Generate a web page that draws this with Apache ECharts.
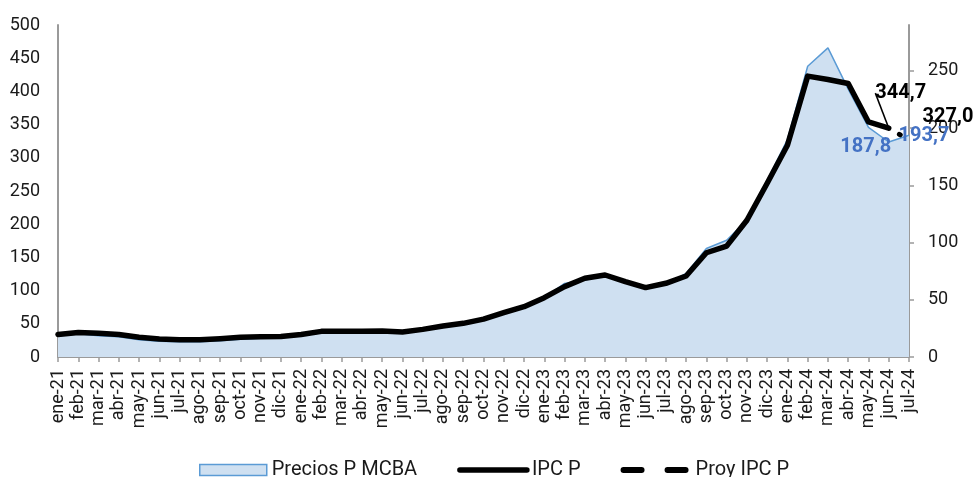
<!DOCTYPE html>
<html>
<head>
<meta charset="utf-8">
<script src="https://cdn.jsdelivr.net/npm/echarts@6/dist/echarts.min.js"></script>
<style>
  html, body { margin: 0; padding: 0; background: #fff; }
  #chart { width: 976px; height: 477px; }
</style>
</head>
<body>
<div id="chart"></div>
<script>
const months = [
  'ene-21','feb-21','mar-21','abr-21','may-21','jun-21','jul-21','ago-21','sep-21','oct-21','nov-21','dic-21',
  'ene-22','feb-22','mar-22','abr-22','may-22','jun-22','jul-22','ago-22','sep-22','oct-22','nov-22','dic-22',
  'ene-23','feb-23','mar-23','abr-23','may-23','jun-23','jul-23','ago-23','sep-23','oct-23','nov-23','dic-23',
  'ene-24','feb-24','mar-24','abr-24','may-24','jun-24','jul-24'
];

// Precios P MCBA (eje derecho)
const preciosMcba = [
  18.5, 20.3, 18.5, 17.7, 15.0, 13.7, 13.3, 13.3, 14.2, 15.5, 16.3, 16.8,
  18.5, 21.1, 21.6, 21.1, 21.6, 20.7, 23.3, 26.3, 29.0, 32.4, 38.1, 43.3,
  51.6, 64.3, 67.2, 71.1, 65.5, 60.3, 63.7, 73.0, 94.8, 102.0, 119.4, 154.0,
  190.0, 254.0, 270.0, 234.0, 200.5, 187.8, 193.7
];

// IPC P (eje izquierdo)
const ipcP = [
  34.0, 37.0, 35.7, 34.0, 29.6, 27.0, 26.0, 26.0, 27.6, 29.6, 30.6, 31.0,
  34.0, 38.6, 38.8, 38.6, 39.0, 37.6, 41.6, 46.7, 50.7, 57.0, 66.7, 75.8,
  89.3, 106.0, 118.5, 123.5, 113.4, 104.5, 111.0, 122.0, 157.0, 167.0, 206.0, 261.6,
  319.0, 423.0, 418.0, 412.0, 354.0, 344.7, null
];

// Proy IPC P (eje izquierdo)
const proyIpcP = months.map(() => null);
proyIpcP[41] = 344.7;
proyIpcP[42] = 327.0;

const leftTicks = [0, 50, 100, 150, 200, 250, 300, 350, 400, 450, 500];
const rightTicks = [0, 50, 100, 150, 200, 250];

// etiquetas de datos
const ipcLabels = [
  { month: 'jun-24', value: 344.7, dx: 12, dy: -25, guide: true },
  { month: 'jul-24', value: 327.0, dx: 39, dy: -13, guide: false }
];
const mcbaLabels = [
  { month: 'jun-24', value: 187.8, dx: -23, dy: 15 },
  { month: 'jul-24', value: 193.7, dx: 15, dy: 11 }
];

const fmt = v => v.toFixed(1).replace('.', ',');
const FONT = 'Roboto, "Noto Sans", sans-serif';
const axisGray = '#9a9a9a';

const chart = echarts.init(document.getElementById('chart'));

const labelBase = {
  show: true,
  position: 'top',
  distance: 0,
  opacity: 1,
  formatter: p => fmt(p.value[1]),
  fontSize: 20,
  fontWeight: 'bold',
  fontFamily: FONT,
  textBorderWidth: 0
};

chart.setOption({
  animation: false,
  textStyle: { fontFamily: FONT },
  grid: {
    left: 58, right: 67, top: 25, bottom: 120,
    containLabel: false,
    outerBoundsMode: 'none'
  },
  legend: {
    left: 194,
    top: 455,
    itemWidth: 67,
    itemHeight: 11,
    itemGap: 40,
    textStyle: { fontSize: 20, color: '#1a1a1a', fontFamily: FONT },
    data: [
      {
        name: 'Precios P MCBA',
        icon: 'rect',
        itemStyle: { color: '#CFE0F1', borderColor: '#5B9BD5', borderWidth: 1.5 }
      },
      {
        name: 'IPC P',
        itemStyle: { opacity: 0 },
        lineStyle: { width: 5.5, color: '#000', cap: 'round' }
      },
      {
        name: 'Proy IPC P',
        itemStyle: { opacity: 0 },
        lineStyle: { width: 6, color: '#000', type: [18, 26], dashOffset: 0, cap: 'round' }
      }
    ]
  },
  xAxis: {
    type: 'category',
    data: months,
    boundaryGap: false,
    axisLine: { lineStyle: { color: axisGray, width: 2 } },
    axisTick: { show: true, interval: 0, length: 5, lineStyle: { color: axisGray, width: 1.5 } },
    axisLabel: {
      interval: 0,
      rotate: 90,
      margin: 12,
      fontSize: 18,
      color: '#1a1a1a',
      fontFamily: FONT
    },
    splitLine: { show: false }
  },
  yAxis: [
    {
      type: 'value',
      min: 0,
      max: 500,
      interval: 50,
      axisLine: { show: true, lineStyle: { color: axisGray, width: 2 } },
      axisTick: { show: false },
      axisLabel: {
        margin: 18,
        fontSize: 18,
        color: '#1a1a1a',
        fontFamily: FONT,
        customValues: leftTicks
      },
      splitLine: { show: false }
    },
    {
      type: 'value',
      min: 0,
      max: 290,
      interval: 50,
      position: 'right',
      axisLine: { show: true, lineStyle: { color: axisGray, width: 2 } },
      axisTick: { show: true, length: 5, lineStyle: { color: axisGray, width: 1.5 }, customValues: rightTicks },
      axisLabel: {
        margin: 19,
        fontSize: 18,
        color: '#1a1a1a',
        fontFamily: FONT,
        customValues: rightTicks
      },
      splitLine: { show: false }
    }
  ],
  series: [
    {
      name: 'Precios P MCBA',
      type: 'line',
      yAxisIndex: 1,
      data: preciosMcba,
      symbol: 'none',
      lineStyle: { color: '#5B9BD5', width: 1.5 },
      itemStyle: { color: '#5B9BD5' },
      areaStyle: { color: '#CFE0F1', opacity: 1 },
      z: 1
    },
    {
      name: 'IPC P',
      type: 'line',
      yAxisIndex: 0,
      data: ipcP,
      symbol: 'none',
      lineStyle: { color: '#000', width: 5.5, join: 'round', cap: 'round' },
      itemStyle: { color: '#000' },
      z: 3
    },
    {
      name: 'Proy IPC P',
      type: 'line',
      yAxisIndex: 0,
      data: proyIpcP,
      symbol: 'none',
      lineStyle: { color: '#000', width: 5, type: [1, 40], dashOffset: 28.7, cap: 'round' },
      itemStyle: { color: '#000' },
      z: 3
    },
    {
      name: 'lbl-ipc',
      type: 'scatter',
      yAxisIndex: 0,
      symbolSize: 0,
      itemStyle: { color: '#000' },
      silent: true,
      z: 5,
      data: ipcLabels.map(l => ({
        value: [l.month, l.value],
        labelLine: { show: l.guide, lineStyle: { color: '#000', width: 1.5 } }
      })),
      label: Object.assign({}, labelBase, { color: '#000' }),
      labelLine: { show: false, lineStyle: { color: '#000', width: 1.5 } },
      labelLayout: p => ({ dx: ipcLabels[p.dataIndex].dx, dy: ipcLabels[p.dataIndex].dy })
    },
    {
      name: 'lbl-mcba',
      type: 'scatter',
      yAxisIndex: 1,
      symbolSize: 0,
      itemStyle: { color: '#4472C4' },
      silent: true,
      z: 5,
      data: mcbaLabels.map(l => [l.month, l.value]),
      label: Object.assign({}, labelBase, { color: '#4472C4' }),
      labelLayout: p => ({ dx: mcbaLabels[p.dataIndex].dx, dy: mcbaLabels[p.dataIndex].dy })
    }
  ]
});
</script>
</body>
</html>
